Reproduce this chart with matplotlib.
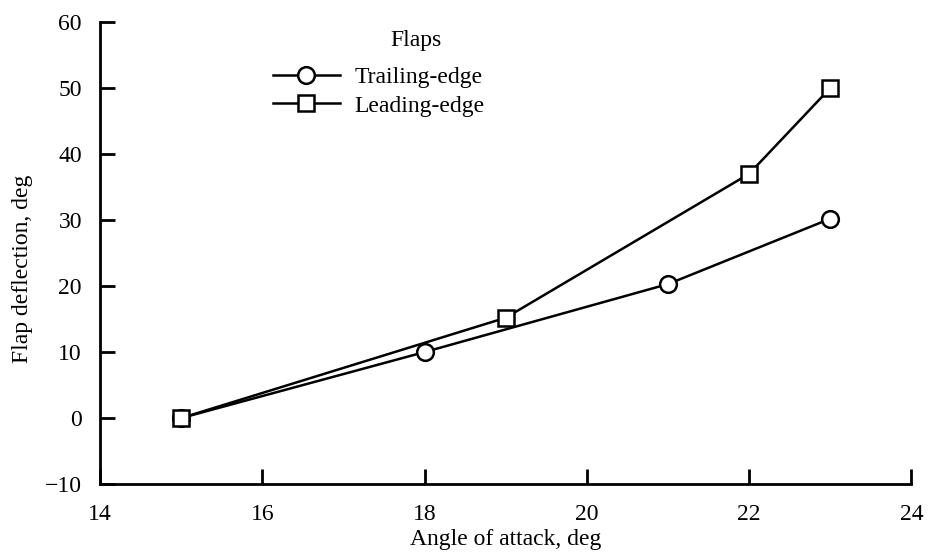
import matplotlib.pyplot as plt

# Data
trail_aoa = [15, 18, 21, 23]
trail_defl = [0, 10, 20.3, 30.2]
lead_aoa = [15, 19, 22, 23]
lead_defl = [0, 15.2, 37, 50]
xticks = [14, 16, 18, 20, 22, 24]
yticks = [-10, 0, 10, 20, 30, 40, 50, 60]

plt.rcParams['font.family'] = ['Liberation Serif', 'DejaVu Serif']

fig = plt.figure(figsize=(9.3, 5.59), dpi=100)
ax = fig.add_axes([0.1075, 0.134, 0.8725, 0.8266])

ax.plot(trail_aoa, trail_defl, color='black', linewidth=1.8, marker='o',
        markersize=12, markerfacecolor='white', markeredgecolor='black',
        markeredgewidth=1.8, label='Trailing-edge')
ax.plot(lead_aoa, lead_defl, color='black', linewidth=1.8, marker='s',
        markersize=12, markerfacecolor='white', markeredgecolor='black',
        markeredgewidth=1.8, label='Leading-edge')

ax.set_xlim(14, 24)
ax.set_ylim(-10, 60)
ax.set_xticks(xticks)
ax.set_yticks(yticks)
ax.set_yticklabels(['\u221210' if v < 0 else str(v) for v in yticks])

for s in ['top', 'right']:
    ax.spines[s].set_visible(False)
for s in ['left', 'bottom']:
    ax.spines[s].set_linewidth(2)

ax.tick_params(direction='in', length=11, width=2, labelsize=17)
ax.tick_params(axis='x', pad=14)
ax.tick_params(axis='y', pad=13)

ax.set_xlabel('Angle of attack, deg', fontsize=17, labelpad=3)
ax.set_ylabel('Flap deflection, deg', fontsize=17)
ax.yaxis.set_label_coords(-0.082, 0.465)

# legend entries, with the "Flaps" heading placed above them
leg = ax.legend(loc='upper left', bbox_to_anchor=(0.213, 0.904),
                frameon=False, fontsize=17,
                borderaxespad=0, borderpad=0,
                handlelength=2.85, handletextpad=0.6, labelspacing=0.3)
ax.text(0.39, 0.961, 'Flaps', transform=ax.transAxes, fontsize=17,
        ha='center', va='center')

plt.savefig('out.png', dpi=100)
